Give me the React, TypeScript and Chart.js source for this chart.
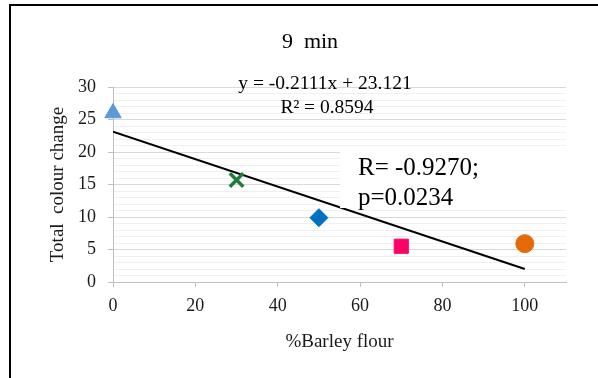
import React, { useEffect, useRef } from 'react';
import { Chart, registerables } from 'chart.js';

Chart.register(...registerables);

// ---- data ----
const chartTitle = '9  min';
const xAxisTitle = '%Barley flour';
const yAxisTitle = 'Total  colour change';
const barleyPercent = [0, 30, 50, 70, 100];
const colourChange = [26.0, 15.7, 9.9, 5.5, 5.9];
const trendSlope = -0.2111;
const trendIntercept = 23.121;
const trendRange = [0, 100];
const equationText = 'y = -0.2111x + 23.121';
const rSquaredText = 'R² = 0.8594';
const statText = ['R= -0.9270;', 'p=0.0234'];
const xMin = 0;
const xMax = 110;
const xStep = 20;
const yMin = 0;
const yMax = 30;
const yMajorStep = 5;

// ---- styles ----
const pointStyles = ['triangle', 'crossRot', 'rectRot', 'rect', 'circle'];
const pointColors = ['#5B9BD5', '#1E7D3A', '#0070C0', '#FF0066', '#E36C09'];
const pointRadii = [9.5, 9.5, 9, 10, 9];
const pointBorders = [1, 3.5, 1, 1, 1];
const FONT = "'Liberation Serif', 'Times New Roman', serif";
const TEXT = '#1a1a1a';

const overlayPlugin = {
  id: 'overlay',
  afterDatasetsDraw(chart: any) {
    const { ctx } = chart;
    ctx.save();
    // white text box
    ctx.fillStyle = '#ffffff';
    ctx.fillRect(340, 148, 226, 60);
    ctx.fillStyle = '#000';
    ctx.textBaseline = 'alphabetic';
    ctx.textAlign = 'left';
    ctx.font = `25px ${FONT}`;
    ctx.fillText(statText[0], 358, 175);
    ctx.fillText(statText[1], 358, 205);
    ctx.restore();
  },
  afterDraw(chart: any) {
    const { ctx } = chart;
    ctx.save();
    ctx.fillStyle = '#000';
    ctx.textAlign = 'center';
    ctx.textBaseline = 'alphabetic';
    ctx.font = `22px ${FONT}`;
    ctx.fillText(chartTitle, 310, 48);
    ctx.font = `19.5px ${FONT}`;
    ctx.fillText(equationText, 325, 89);
    ctx.fillText(rSquaredText, 327, 113);
    // outer frame
    ctx.strokeStyle = '#000';
    ctx.lineWidth = 2;
    ctx.beginPath();
    ctx.moveTo(598, 5);
    ctx.lineTo(10, 5);
    ctx.lineTo(10, 378);
    ctx.stroke();
    ctx.restore();
  },
};

export default function App() {
  const ref = useRef<HTMLCanvasElement | null>(null);
  useEffect(() => {
    if (!ref.current) return;
    const points = barleyPercent.map((x, i) => ({ x, y: colourChange[i] }));
    const trend = trendRange.map((x) => ({ x, y: trendIntercept + trendSlope * x }));
    const chart = new Chart(ref.current, {
      type: 'scatter',
      data: {
        datasets: [
          {
            label: 'data',
            data: points,
            pointStyle: pointStyles as any,
            backgroundColor: pointColors,
            borderColor: pointColors,
            pointRadius: pointRadii,
            pointBorderWidth: pointBorders,
            clip: false,
            order: 1,
          } as any,
          {
            label: 'trend',
            data: trend,
            showLine: true,
            borderColor: '#000',
            borderWidth: 2,
            pointRadius: 0,
            order: 2,
          } as any,
        ],
      },
      options: {
        animation: false,
        responsive: false,
        devicePixelRatio: 1,
        layout: { padding: { left: 0, right: 32, top: 87, bottom: 0 } },
        plugins: { legend: { display: false }, tooltip: { enabled: false }, title: { display: false } },
        scales: {
          x: {
            type: 'linear',
            min: xMin,
            max: xMax,
            afterFit: (s: any) => { s.height = 96; },
            border: { color: '#BFBFBF', width: 1 },
            grid: { drawOnChartArea: false, drawTicks: true, tickLength: 5, color: '#BFBFBF' },
            ticks: {
              stepSize: xStep,
              includeBounds: false,
              padding: 8,
              color: TEXT,
              font: { family: FONT, size: 18 },
              maxRotation: 0,
            },
            title: {
              display: true,
              text: xAxisTitle,
              color: TEXT,
              font: { family: FONT, size: 19 },
              padding: { top: 0, bottom: 25 },
            },
          },
          y: {
            type: 'linear',
            min: yMin,
            max: yMax,
            afterFit: (s: any) => { s.width = 113; },
            border: { color: '#BFBFBF', width: 1 },
            grid: {
              drawTicks: true,
              tickLength: 5,
              color: (c: any) => (c.tick && c.tick.value % yMajorStep === 0 ? '#D9D9D9' : '#F0F0F0'),
              tickColor: (c: any) => (c.tick && c.tick.value % yMajorStep === 0 ? '#BFBFBF' : 'rgba(0,0,0,0)'),
            },
            ticks: {
              stepSize: 1,
              autoSkip: false,
              padding: 12,
              color: TEXT,
              font: { family: FONT, size: 18 },
              callback: (v: any) => (Number(v) % yMajorStep === 0 ? String(v) : ''),
            },
            title: {
              display: true,
              text: yAxisTitle,
              color: TEXT,
              font: { family: FONT, size: 19 },
              padding: { top: 47, bottom: 0 },
            },
          },
        },
      },
      plugins: [overlayPlugin],
    });
    return () => chart.destroy();
  }, []);
  return (
    <div style={{ position: 'absolute', left: 0, top: 0, width: 598, height: 378, background: '#fff' }}>
      <canvas ref={ref} width={598} height={378} style={{ display: 'block', width: 598, height: 378 }} />
    </div>
  );
}
